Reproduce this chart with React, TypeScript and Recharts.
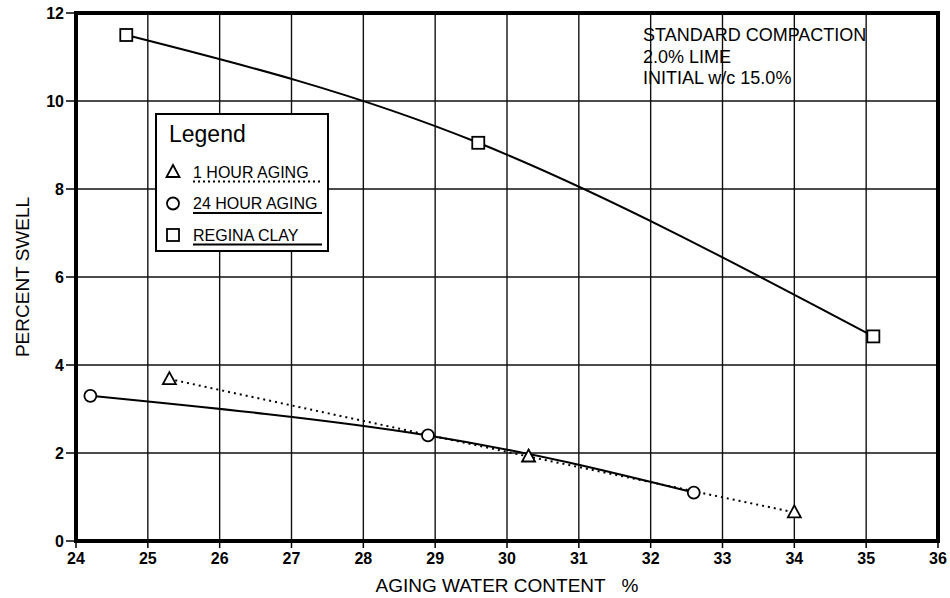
import { LineChart, Line, XAxis, YAxis, CartesianGrid, ReferenceArea, Legend } from "recharts";

const FONT = "'Liberation Sans', Arial, sans-serif";

// aging water content (%) and percent swell
const reginaX = [24.7, 29.6, 35.1];
const reginaY = [11.5, 9.05, 4.65];
const hour24X = [24.2, 28.9, 32.6];
const hour24Y = [3.3, 2.4, 1.1];
const hour1X = [25.3, 30.3, 34.0];
const hour1Y = [3.68, 1.92, 0.65];

const xTicks = [24, 25, 26, 27, 28, 29, 30, 31, 32, 33, 34, 35, 36];
const yTicks = [0, 2, 4, 6, 8, 10, 12];

const seriesNames = ["1 HOUR AGING", "24 HOUR AGING", "REGINA CLAY"];
const noteLines = ["STANDARD COMPACTION", "2.0% LIME", "INITIAL w/c 15.0%"];

const toPoints = (xs: number[], ys: number[]) => xs.map((x, i) => ({ x, y: ys[i] }));

const reginaData = toPoints(reginaX, reginaY);
const hour24Data = toPoints(hour24X, hour24Y);
const hour1Data = toPoints(hour1X, hour1Y);

type Shape = "triangle" | "circle" | "square";

function Marker({ shape, cx, cy }: { shape: Shape; cx: number; cy: number }) {
  if (shape === "triangle") {
    return (
      <path
        d={`M${cx},${cy - 7} L${cx + 6.5},${cy + 5} L${cx - 6.5},${cy + 5} Z`}
        fill="#fff"
        stroke="#000"
        strokeWidth={1.8}
      />
    );
  }
  if (shape === "circle") {
    return <circle cx={cx} cy={cy} r={6} fill="#fff" stroke="#000" strokeWidth={1.8} />;
  }
  return <rect x={cx - 6} y={cy - 6} width={12} height={12} fill="#fff" stroke="#000" strokeWidth={1.8} />;
}

const makeDot = (shape: Shape) => (props: any) => (
  <Marker key={`${shape}-${props.index}`} shape={shape} cx={props.cx} cy={props.cy} />
);

const shapes: Shape[] = ["triangle", "circle", "square"];

function LegendBox() {
  return (
    <svg width={174} height={139} style={{ display: "block" }}>
      <rect x={1} y={1} width={172} height={137} fill="#fff" stroke="#000" strokeWidth={2} />
      <text x={14} y={29} fontSize={23} fontFamily={FONT} fill="#000">
        Legend
      </text>
      {seriesNames.map((name, i) => {
        const cy = 59 + i * 31.5;
        return (
          <g key={name}>
            <Marker shape={shapes[i]} cx={18} cy={cy} />
            <text x={38} y={cy + 5.5} fontSize={16} fontFamily={FONT} fill="#000">
              {name}
            </text>
            <line
              x1={38}
              x2={167}
              y1={cy + 9.5}
              y2={cy + 9.5}
              stroke="#000"
              strokeWidth={i === 0 ? 2 : 1.8}
              strokeDasharray={i === 0 ? "2 3" : undefined}
            />
          </g>
        );
      })}
    </svg>
  );
}

export default function App() {
  return (
    <div style={{ position: "relative", width: 950, height: 598, background: "#fff" }}>
      <style>{`body{margin:0}`}</style>
      <LineChart width={950} height={598} margin={{ top: 13, right: 12, left: 0, bottom: 0 }}>
        <CartesianGrid stroke="#111" strokeWidth={1.4} />
        <XAxis
          dataKey="x"
          type="number"
          domain={[24, 36]}
          ticks={xTicks}
          allowDataOverflow
          height={57}
          axisLine={false}
          tickLine={{ stroke: "#000", strokeWidth: 1.5 }}
          tickSize={7}
          tickMargin={5}
          tick={{ fontSize: 16, fontWeight: "bold", fill: "#000", fontFamily: FONT }}
          label={{
            value: "AGING WATER CONTENT\u00a0\u00a0\u00a0%",
            position: "insideBottom",
            offset: 6,
            style: { fontSize: 19, fill: "#000", fontFamily: FONT },
          }}
        />
        <YAxis
          type="number"
          domain={[0, 12]}
          ticks={yTicks}
          allowDataOverflow
          width={76}
          axisLine={false}
          tickLine={{ stroke: "#000", strokeWidth: 1.5 }}
          tickSize={10}
          tickMargin={2}
          tick={{ fontSize: 16, fontWeight: "bold", fill: "#000", fontFamily: FONT }}
          label={{
            value: "PERCENT SWELL",
            angle: -90,
            position: "insideLeft",
            offset: 22,
            style: { fontSize: 19, fill: "#000", fontFamily: FONT, textAnchor: "middle" },
          }}
        />
        <ReferenceArea
          x1={24}
          x2={36}
          y1={0}
          y2={12}
          fill="none"
          stroke="#000"
          strokeWidth={4}
          ifOverflow="visible"
        />
        <Line
          data={hour1Data}
          dataKey="y"
          name={seriesNames[0]}
          type="linear"
          stroke="#000"
          strokeWidth={2}
          strokeDasharray="2 4"
          dot={makeDot("triangle")}
          activeDot={false}
          isAnimationActive={false}
        />
        <Line
          data={hour24Data}
          dataKey="y"
          name={seriesNames[1]}
          type="natural"
          stroke="#000"
          strokeWidth={2}
          dot={makeDot("circle")}
          activeDot={false}
          isAnimationActive={false}
        />
        <Line
          data={reginaData}
          dataKey="y"
          name={seriesNames[2]}
          type="natural"
          stroke="#000"
          strokeWidth={2}
          dot={makeDot("square")}
          activeDot={false}
          isAnimationActive={false}
        />
        <Legend
          layout="horizontal"
          verticalAlign="middle"
          align="center"
          content={() => <LegendBox />}
          wrapperStyle={{ left: 155, top: 113, width: 174, height: 139 }}
        />
        {noteLines.map((line, i) => (
          <text
            key={line}
            x={643}
            y={41 + i * 21.5}
            fontSize={18}
            fontFamily={FONT}
            fill="#000"
          >
            {line}
          </text>
        ))}
      </LineChart>
    </div>
  );
}
